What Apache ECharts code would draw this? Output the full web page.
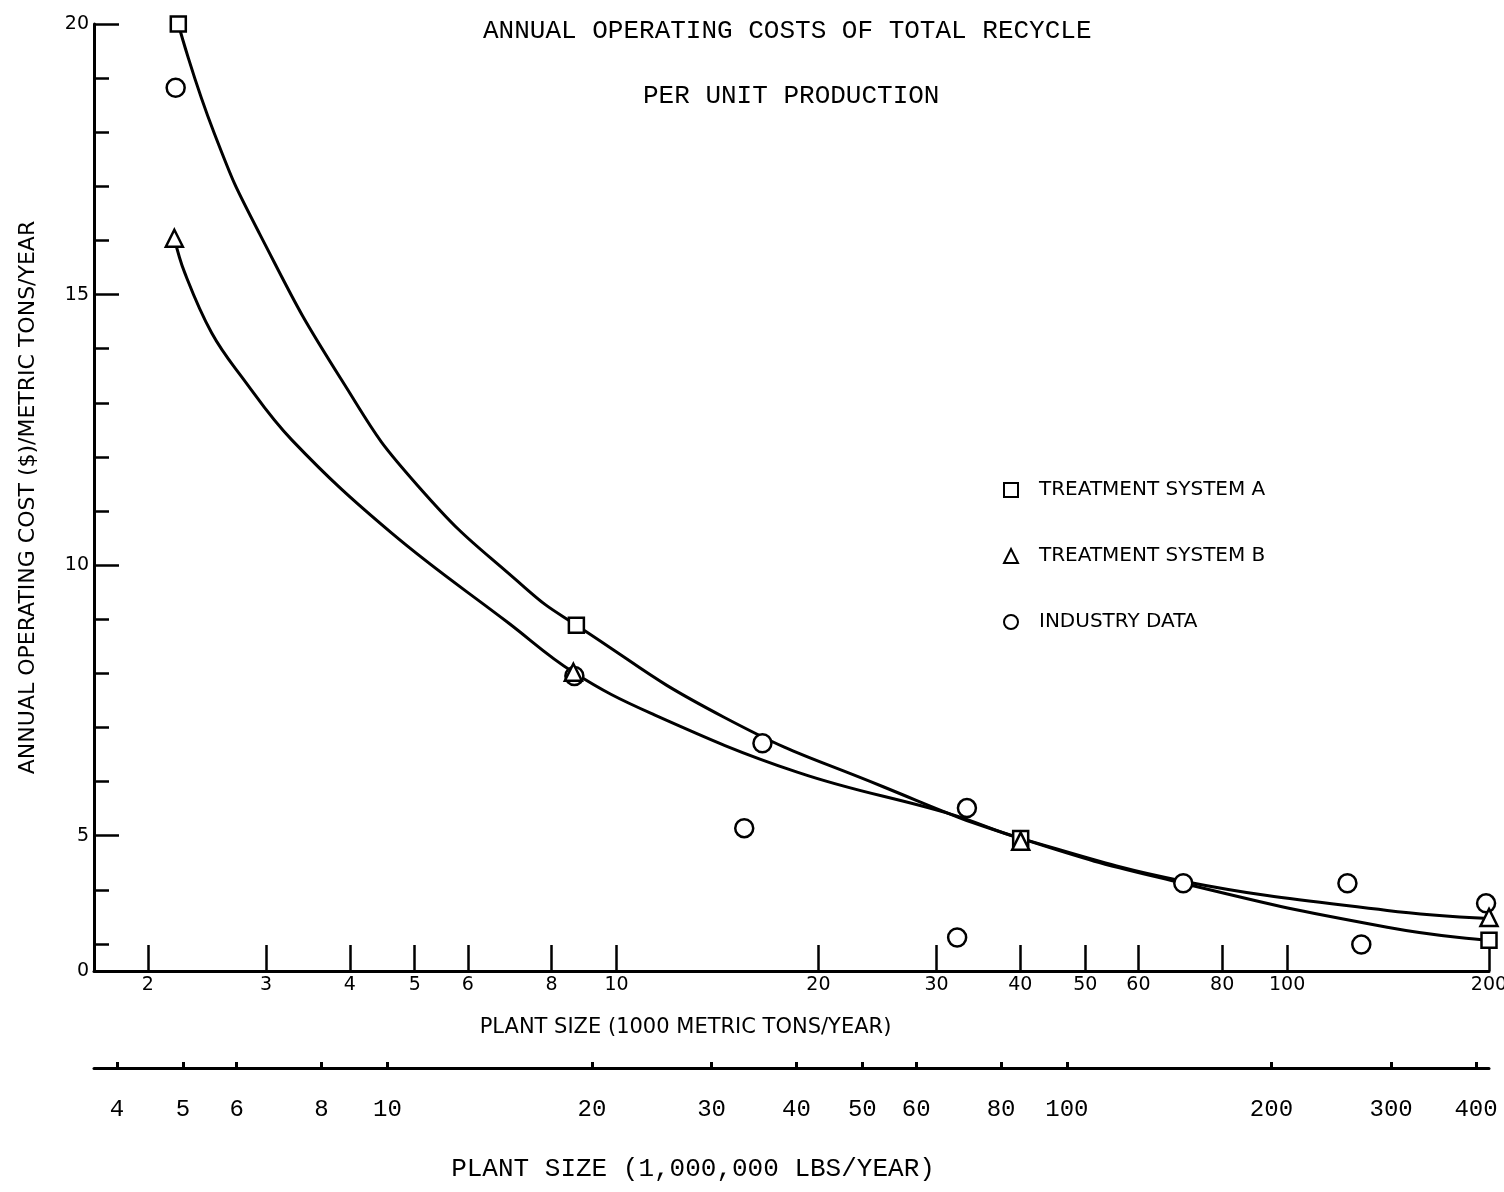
<!DOCTYPE html>
<html>
<head>
<meta charset="utf-8">
<title>Annual operating costs of total recycle</title>
<script src="https://cdn.jsdelivr.net/npm/echarts@6.0.0/dist/echarts.min.js"></script>
<style>
  html, body { margin: 0; padding: 0; background: #fff; }
  #chart { width: 1504px; height: 1192px; }
</style>
</head>
<body>
<div id="chart"></div>
<script>
// 刻度
var tonTicks = [2, 3, 4, 5, 6, 8, 10, 20, 30, 40, 50, 60, 80, 100, 200]
var lbsTicks = [4, 5, 6, 8, 10, 20, 30, 40, 50, 60, 80, 100, 200, 300, 400]
var costLabels = [2.5, 5, 10, 15, 20]   // 2.5 = broken axis bottom, printed as "0"
var costMajorTicks = [5, 10, 15, 20]
var costMinorTicks = [3, 4, 6, 7, 8, 9, 11, 12, 13, 14, 16, 17, 18, 19]

// 拟合曲线 A
var curveASize = [2.22, 2.51, 2.93, 3.89, 5.06, 7.29, 8.71, 14.46, 25.03, 40.05, 70.0, 141, 200]
var curveACost = [20.0, 17.99, 16.14, 13.42, 11.46, 9.59, 8.89, 7.19, 5.90, 4.95, 4.12, 3.31, 3.07]
// 拟合曲线 B
var curveBSize = [2.19, 2.27, 2.49, 2.76, 3.28, 4.62, 6.90, 8.62, 11.26, 18.64, 31.5, 40.05, 70.0, 141, 200]
var curveBCost = [16.04, 15.40, 14.29, 13.48, 12.31, 10.59, 8.93, 8.02, 7.26, 6.17, 5.40, 4.95, 4.16, 3.62, 3.47]

// 数据点
var sysASize = [2.22, 8.71, 40.05, 200]
var sysACost = [20.0, 8.89, 4.95, 3.07]
var sysBSize = [2.19, 8.62, 40.05, 200]
var sysBCost = [16.04, 8.02, 4.90, 3.49]
var industrySize = [2.20, 8.65, 15.5, 16.5, 32.2, 33.3, 70, 123, 129, 198]
var industryCost = [18.82, 7.95, 5.14, 6.71, 3.12, 5.51, 4.12, 4.12, 2.99, 3.75]

function pairs (xs, ys) {
  return xs.map(function (x, i) { return [x, ys[i]] })
}

var sans = "'DejaVu Sans', sans-serif"
var mono = "'Liberation Mono', monospace"

var myChart = echarts.init(document.getElementById('chart'))
var option = {
  animation: false,
  backgroundColor: '#fff',
  title: [
    {
      text: 'ANNUAL OPERATING COSTS OF TOTAL RECYCLE',
      left: 483, top: 18, padding: 0,
      textStyle: { fontFamily: mono, fontSize: 26, fontWeight: 'normal', color: '#000' }
    },
    {
      text: 'PER UNIT PRODUCTION',
      left: 643, top: 83, padding: 0,
      textStyle: { fontFamily: mono, fontSize: 26, fontWeight: 'normal', color: '#000' }
    }
  ],
  legend: {
    orient: 'vertical',
    left: 1003,
    top: 480,
    padding: 0,
    itemGap: 46,
    itemWidth: 14,
    itemHeight: 14,
    data: ['TREATMENT SYSTEM A', 'TREATMENT SYSTEM B', 'INDUSTRY DATA'],
    textStyle: { fontFamily: sans, fontSize: 20, color: '#000', padding: [0, 0, 0, 16] }
  },
  grid: { left: 94, right: 15, top: 24, bottom: 221, outerBoundsMode: 'none' },
  xAxis: [
    {
      type: 'log',
      min: 1.662,
      max: 200,
      name: 'PLANT SIZE (1000 METRIC TONS/YEAR)',
      nameLocation: 'middle',
      nameGap: 46,
      nameTextStyle: { fontFamily: sans, fontSize: 21, color: '#000', padding: [0, 212, 0, 0] },
      axisLine: { onZero: false, lineStyle: { color: '#000', width: 3 } },
      axisTick: { inside: true, length: 26, customValues: tonTicks, lineStyle: { color: '#000', width: 2.5 } },
      axisLabel: { customValues: tonTicks, margin: 5, fontFamily: sans, fontSize: 19, color: '#000' },
      splitLine: { show: false },
      minorTick: { show: false }
    },
    {
      // 第二条横轴：百万磅/年
      type: 'log',
      min: 3.70,
      max: 418,
      position: 'bottom',
      offset: 97,
      name: 'PLANT SIZE (1,000,000 LBS/YEAR)',
      nameLocation: 'middle',
      nameGap: 88,
      nameTextStyle: { fontFamily: mono, fontSize: 26, color: '#000', padding: [0, 197, 0, 0] },
      axisLine: { onZero: false, lineStyle: { color: '#000', width: 3 } },
      axisTick: { inside: true, length: 6, customValues: lbsTicks, lineStyle: { color: '#000', width: 3 } },
      axisLabel: { customValues: lbsTicks, margin: 30, fontFamily: mono, fontSize: 24, color: '#000' },
      splitLine: { show: false }
    }
  ],
  yAxis: [
    {
      type: 'value',
      min: 2.5,
      max: 20,
      name: 'ANNUAL OPERATING COST ($)/METRIC TONS/YEAR',
      nameLocation: 'middle',
      nameGap: 55,
      nameTextStyle: { fontFamily: sans, fontSize: 22, color: '#000' },
      axisLine: { show: true, onZero: false, lineStyle: { color: '#000', width: 3 } },
      axisTick: { inside: true, length: 25, customValues: costMajorTicks, lineStyle: { color: '#000', width: 2.5 } },
      axisLabel: {
        customValues: costLabels,
        margin: 5,
        fontFamily: sans,
        fontSize: 19,
        color: '#000',
        formatter: function (v) { return v === 2.5 ? '0' : String(v) }
      },
      splitLine: { show: false }
    },
    {
      // 小刻度
      type: 'value',
      min: 2.5,
      max: 20,
      position: 'left',
      offset: 0,
      axisLine: { show: false, onZero: false },
      axisTick: { show: true, inside: true, length: 15, customValues: costMinorTicks, lineStyle: { color: '#000', width: 2.5 } },
      axisLabel: { show: false },
      splitLine: { show: false }
    }
  ],
  series: [
    {
      name: 'curve A',
      type: 'line',
      data: pairs(curveASize, curveACost),
      showSymbol: false,
      symbol: 'none',
      smooth: 0.5,
      lineStyle: { color: '#000', width: 3 },
      z: 2
    },
    {
      name: 'curve B',
      type: 'line',
      data: pairs(curveBSize, curveBCost),
      showSymbol: false,
      symbol: 'none',
      smooth: 0.4,
      lineStyle: { color: '#000', width: 3 },
      z: 2
    },
    {
      name: 'TREATMENT SYSTEM A',
      type: 'scatter',
      symbol: 'rect',
      symbolSize: 15,
      data: pairs(sysASize, sysACost),
      itemStyle: { color: '#fff', borderColor: '#000', borderWidth: 2.5, opacity: 1 },
      z: 4
    },
    {
      name: 'TREATMENT SYSTEM B',
      type: 'scatter',
      symbol: 'triangle',
      symbolSize: 17,
      data: pairs(sysBSize, sysBCost),
      itemStyle: { color: '#fff', borderColor: '#000', borderWidth: 2.5, opacity: 1 },
      z: 5
    },
    {
      name: 'INDUSTRY DATA',
      type: 'scatter',
      symbol: 'circle',
      symbolSize: 18,
      data: pairs(industrySize, industryCost),
      itemStyle: { color: '#fff', borderColor: '#000', borderWidth: 2.5, opacity: 1 },
      z: 3
    }
  ]
}
myChart.setOption(option)
window.addEventListener('resize', function () {
  myChart.resize()
})
</script>
</body>
</html>
